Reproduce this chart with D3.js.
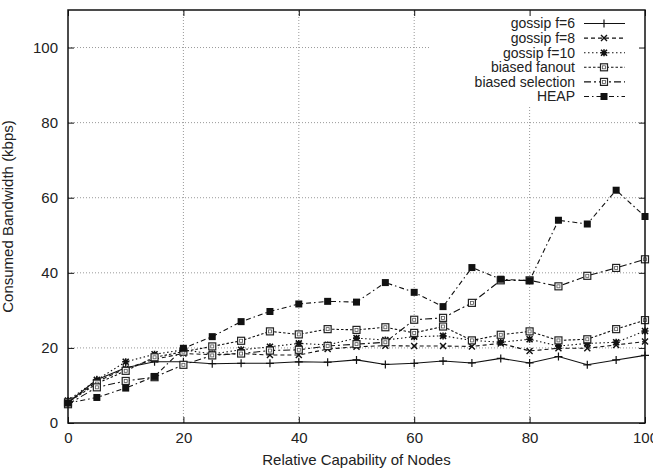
<!DOCTYPE html>
<meta charset="utf-8">
<head>
  <script src="https://d3js.org/d3.v7.min.js"></script>
</head>
<style>
body { margin: 0; background: #fff; }
svg { font-family: "Liberation Sans", Arial, sans-serif; }
.tick text { font-size: 15px; fill: #222; }
.grid line { stroke: #999; stroke-dasharray: 1,2; }
.series { fill: none; stroke: #111; stroke-width: 1.1; }
</style>
<body>
<div id="chart"></div>
<script>
// x values: relative capability of nodes
var capability = [0, 5, 10, 15, 20, 25, 30, 35, 40, 45, 50, 55, 60, 65, 70, 75, 80, 85, 90, 95, 100];

var gossipF6  = [5.5, 11.5, 14.7, 16.3, 16.3, 15.8, 15.9, 15.9, 16.3, 16.2, 16.8, 15.6, 15.9, 16.5, 16.0, 17.2, 16.0, 17.7, 15.5, 16.8, 18.0];
var gossipF8  = [5.5, 11.0, 14.5, 17.0, 18.5, 18.2, 18.5, 18.1, 18.1, 19.7, 20.3, 20.6, 20.5, 20.5, 20.4, 21.2, 19.2, 19.9, 19.9, 20.8, 21.7];
var gossipF10 = [6.0, 11.5, 16.3, 18.3, 19.5, 18.4, 19.5, 20.3, 21.2, 20.8, 22.6, 22.1, 23.0, 23.2, 22.0, 21.5, 22.3, 20.5, 21.2, 21.5, 24.5];
var biasedFanout = [5.5, 10.5, 13.9, 17.5, 19.0, 20.4, 21.9, 24.4, 23.6, 25.0, 24.8, 25.5, 24.0, 25.7, 22.0, 23.5, 24.4, 22.0, 22.3, 25.0, 27.4];
var biasedSelection = [5.0, 9.5, 11.2, 12.2, 15.5, 18.0, 18.5, 19.3, 19.5, 20.5, 21.0, 21.5, 27.5, 28.0, 32.0, 38.0, 38.0, 36.4, 39.2, 41.3, 43.6];
var heap = [5.3, 6.8, 9.3, 12.4, 19.9, 23.0, 27.0, 29.7, 31.7, 32.4, 32.2, 37.4, 34.8, 31.0, 41.4, 38.3, 37.9, 54.0, 53.0, 62.0, 55.0];

var seriesNames = ["gossip f=6", "gossip f=8", "gossip f=10", "biased fanout", "biased selection", "HEAP"];
var seriesValues = [gossipF6, gossipF8, gossipF10, biasedFanout, biasedSelection, heap];
var seriesDash = ["none", "4,3", "1.5,2.5", "2.5,2", "7,3,2,3", "5,3,1.5,3"];
var seriesMarker = ["plus", "cross", "star", "osquare", "osquare", "fsquare"];

var xTicks = [0, 20, 40, 60, 80, 100];
var yTicks = [0, 20, 40, 60, 80, 100];

var width = 653, height = 468;
var plotLeft = 68, plotRight = 645, plotTop = 10, plotBottom = 423;

var svg = d3.select("#chart").append("svg")
  .attr("width", width)
  .attr("height", height);

var x = d3.scaleLinear().domain([0, 100]).range([plotLeft, plotRight]);
var y = d3.scaleLinear().domain([0, 110]).range([plotBottom, plotTop]);

// grid
var grid = svg.append("g").attr("class", "grid");
grid.selectAll(".gx").data(xTicks.slice(1, -1)).enter().append("line")
  .attr("x1", d => x(d)).attr("x2", d => x(d))
  .attr("y1", plotBottom).attr("y2", plotTop);
grid.selectAll(".gy").data(yTicks.slice(1)).enter().append("line")
  .attr("x1", plotLeft).attr("x2", plotRight)
  .attr("y1", d => y(d)).attr("y2", d => y(d));

// key background hides the grid behind it
svg.append("rect")
  .attr("x", 430).attr("y", plotTop + 1)
  .attr("width", plotRight - 431).attr("height", 94)
  .attr("fill", "#fff");

// axes with inward ticks, mirrored
svg.append("g")
  .attr("transform", "translate(0," + plotBottom + ")")
  .call(d3.axisBottom(x).tickValues(xTicks).tickSize(-6).tickPadding(9));
svg.append("g")
  .attr("transform", "translate(" + plotLeft + ",0)")
  .call(d3.axisLeft(y).tickValues(yTicks).tickSize(-6).tickPadding(10));
svg.append("g")
  .attr("transform", "translate(0," + plotTop + ")")
  .call(d3.axisTop(x).tickValues(xTicks).tickSize(-6).tickFormat(""));
svg.append("g")
  .attr("transform", "translate(" + plotRight + ",0)")
  .call(d3.axisRight(y).tickValues(yTicks).tickSize(-6).tickFormat(""));
svg.selectAll(".domain").remove();
svg.selectAll(".tick line").attr("stroke", "#111");

// markers
function drawMarker(g, type, cx, cy) {
  if (type === "plus") {
    g.append("path").attr("d", `M${cx-4},${cy}H${cx+4}M${cx},${cy-4}V${cy+4}`)
      .attr("stroke", "#111").attr("stroke-width", 1.2);
  } else if (type === "cross") {
    g.append("path").attr("d", `M${cx-3},${cy-3}L${cx+3},${cy+3}M${cx-3},${cy+3}L${cx+3},${cy-3}`)
      .attr("stroke", "#111").attr("stroke-width", 1.4);
  } else if (type === "star") {
    g.append("path").attr("d", `M${cx-3.5},${cy}H${cx+3.5}M${cx},${cy-3.5}V${cy+3.5}M${cx-3},${cy-3}L${cx+3},${cy+3}M${cx-3},${cy+3}L${cx+3},${cy-3}`)
      .attr("stroke", "#111").attr("stroke-width", 1.6);
  } else if (type === "osquare") {
    g.append("rect").attr("x", cx - 3.5).attr("y", cy - 3.5).attr("width", 7).attr("height", 7)
      .attr("fill", "#fff").attr("stroke", "#222").attr("stroke-width", 1.2);
    g.append("rect").attr("x", cx - 1.5).attr("y", cy - 1.5).attr("width", 3).attr("height", 3)
      .attr("fill", "none").attr("stroke", "#555").attr("stroke-width", 0.8);
  } else {
    g.append("rect").attr("x", cx - 3.5).attr("y", cy - 3.5).attr("width", 7).attr("height", 7)
      .attr("fill", "#111");
  }
}

var line = d3.line()
  .x((d, i) => x(capability[i]))
  .y(d => y(d));

seriesValues.forEach(function(vals, s) {
  var g = svg.append("g");
  g.append("path")
    .attr("class", "series")
    .attr("d", line(vals))
    .attr("stroke-dasharray", seriesDash[s]);
  vals.forEach(function(v, i) {
    drawMarker(g, seriesMarker[s], x(capability[i]), y(v));
  });
});

// key
var key = svg.append("g");
seriesNames.forEach(function(name, s) {
  var ky = 23.5 + s * 14.6;
  key.append("text")
    .attr("x", 575).attr("y", ky)
    .attr("dy", "0.35em")
    .attr("text-anchor", "end")
    .attr("font-size", "14px")
    .attr("fill", "#222")
    .text(name);
  key.append("line")
    .attr("class", "series")
    .attr("x1", 584).attr("x2", 625)
    .attr("y1", ky).attr("y2", ky)
    .attr("stroke-dasharray", seriesDash[s]);
  drawMarker(key, seriesMarker[s], 604, ky);
});

// frame
svg.append("rect")
  .attr("x", plotLeft).attr("y", plotTop)
  .attr("width", plotRight - plotLeft).attr("height", plotBottom - plotTop)
  .attr("fill", "none").attr("stroke", "#111").attr("stroke-width", 1.5);

// axis titles
svg.append("text")
  .attr("x", (plotLeft + plotRight) / 2).attr("y", 465)
  .attr("text-anchor", "middle")
  .attr("font-size", "15px")
  .attr("fill", "#222")
  .text("Relative Capability of Nodes");

svg.append("text")
  .attr("transform", "translate(13," + ((plotTop + plotBottom) / 2) + ") rotate(-90)")
  .attr("text-anchor", "middle")
  .attr("font-size", "15px")
  .attr("fill", "#222")
  .text("Consumed Bandwidth (kbps)");
</script>
</body>
